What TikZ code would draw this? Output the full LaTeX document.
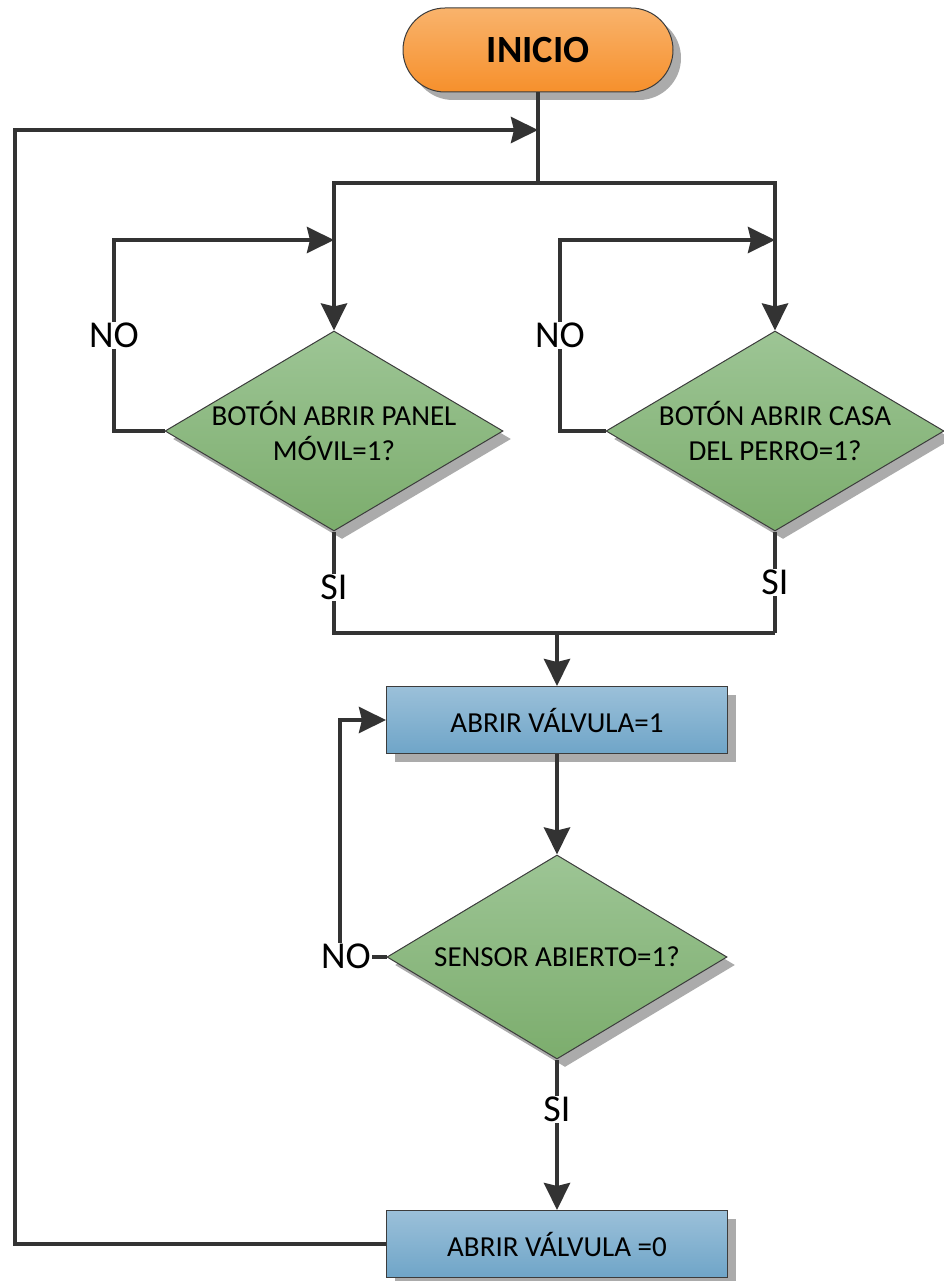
\documentclass[tikz,border=0pt]{standalone}
\usepackage{fontspec}
\setmainfont{Carlito}
\usetikzlibrary{shapes.geometric,shadows,arrows.meta,positioning}
\definecolor{linegray}{HTML}{333333}
\definecolor{edgegray}{HTML}{3C3C3C}
\definecolor{orangetop}{HTML}{F9B36C}
\definecolor{orangebot}{HTML}{F6902C}
\definecolor{greentop}{HTML}{9DC595}
\definecolor{greenbot}{HTML}{7CAD6D}
\definecolor{bluetop}{HTML}{9BC0D9}
\definecolor{bluebot}{HTML}{6FA5C8}
\tikzset{x=1pt, y=1pt, % one unit is one point
flow/.style={line width=4pt, draw=linegray}, % connector lines
arrowline/.style={flow, -{Stealth[length=27pt,width=26pt,inset=3pt]}}, % connector ending in a big arrow head
shade/.style={drop shadow={shadow xshift=8pt, shadow yshift=-8pt, fill=black!33, opacity=1}}, % grey shadow down right
startnode/.style={shade, rectangle, rounded corners=42pt, minimum width=270pt, minimum height=84pt, top color=orangetop, bottom color=orangebot, draw=edgegray, line width=1pt, font=\fontsize{38.5}{42}\selectfont\bfseries},
process/.style={shade, rectangle, minimum width=341pt, minimum height=67pt, top color=bluetop, bottom color=bluebot, draw=edgegray, line width=1pt, font=\fontsize{29}{34}\selectfont},
decision/.style={shade, diamond, minimum width=338pt, minimum height=200pt, inner sep=0pt, top color=greentop, bottom color=greenbot, draw=edgegray, line width=1pt},
dectext/.style={align=center, font=\fontsize{29}{35}\selectfont},
lbl/.style={fill=white, inner sep=1pt, font=\fontsize{38}{40}\selectfont},
}

\begin{document}
\begin{tikzpicture}
\useasboundingbox (0,0) rectangle (944,-1281);
\node[startnode] (inicio) at (538,-50) {INICIO};
\coordinate (jtop) at (538,-130);
\coordinate (jsplit) at (538,-183);
\node[decision] (dec1) at (334,-431) {};
\node[decision] (dec2) at (775,-431) {};
\node[dectext] (t1) at (dec1) {BOTÓN ABRIR PANEL\\MÓVIL=1?};
\node[dectext] (t2) at (dec2) {BOTÓN ABRIR CASA\\DEL PERRO=1?};
\coordinate (jmerge) at (557,-633);
\node[process] (box1) at (557,-720) {ABRIR VÁLVULA=1};
\node[decision, minimum width=340pt, minimum height=204pt] (dec3) at (557,-957) {};
\node[dectext] (t3) at (dec3) {SENSOR ABIERTO=1?};
\node[process] (box2) at (557,-1244) {ABRIR VÁLVULA =0};

% start and split to both buttons
\draw[flow] (inicio.south) -- (jsplit);
\draw[arrowline] (jsplit) -| (dec1.north);
\draw[arrowline] (jsplit) -| (dec2.north);

% NO loops of the buttons
\coordinate (back1) at (334,-240);
\coordinate (back2) at (775,-240);
\draw[arrowline] (dec1.west) -- (114,-431) -- node[lbl] (no1) {NO} (114,-240) -- (back1);
\draw[arrowline] (dec2.west) -- (560,-431) -- node[lbl] (no2) {NO} (560,-240) -- (back2);

% SI branches join above the valve
\draw[flow] (dec1.south) -- node[lbl, pos=0.55] (si1) {SI} (334,-633) -- (775,-633);
\draw[flow] (dec2.south) -- node[lbl, pos=0.5] (si2) {SI} (775,-633);
\draw[arrowline] (jmerge) -- (box1.north);

% valve and sensor
\draw[arrowline] (box1.south) -- (dec3.north);
\draw[arrowline] (dec3.west) -- (340,-957) -- (340,-720) -- (box1.west);
\node[lbl] (no3) at (346,-956) {NO};
\draw[arrowline] (dec3.south) -- node[lbl, pos=0.33] (si3) {SI} (box2.north);

% back to the top
\draw[arrowline] (box2.west) -- (15,-1244) -- (15,-130) -- (jtop);
\end{tikzpicture}
\end{document}
